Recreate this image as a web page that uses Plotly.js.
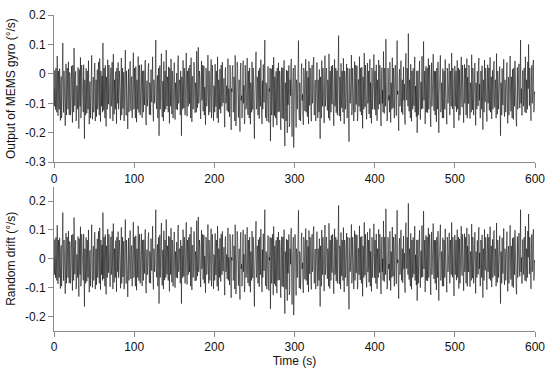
<!DOCTYPE html>
<html>
<head>
<meta charset="utf-8">
<script src="https://cdn.plot.ly/plotly-3.0.1.min.js"></script>
<style>html,body{margin:0;padding:0;background:#fff;}#chart{width:550px;height:370px;}</style>
</head>
<body>
<div id="chart"></div>
<script>
// Sampling: one reading every 0.5 s, 0 .. 600 s
const sampleStartS = 0;
const sampleIntervalS = 0.5;

// Output of the MEMS gyro (°/s) (40 readings = 20 s per row)
const gyroOutput = [
-.048,-.11,.012,-.07,-.121,.02,-.035,-.13,.061,-.05,-.142,.01,-.067,-.12,.018,-.09,-.158,-.03,-.009,-.15,-.083,.04,.105,-.08,-.131,.01,-.02,-.1,-.176,-.06,.034,-.14,-.095,.02,-.061,-.12,.041,-.09,-.139,.005,
-.004,-.14,-.117,-.02,.027,-.09,-.165,.03,-.052,-.13,.088,-.06,-.108,-.01,.009,-.16,-.149,-.04,-.071,-.12,.022,-.08,-.186,.015,-.038,-.11,.056,-.15,-.127,.03,-.015,-.07,-.094,-.13,.031,-.05,-.22,-.02,-.063,-.14,
.019,-.08,-.133,.01,-.047,-.12,.045,-.1,-.171,-.04,-.026,-.15,-.088,.02,.063,-.11,-.154,-.06,-.011,-.13,-.112,.03,.037,-.16,-.069,-.02,-.145,-.07,.014,-.12,-.093,.04,-.03,-.14,.052,-.09,-.162,.01,-.058,-.11,
-.007,-.13,.105,-.05,-.124,.02,-.041,-.15,.029,-.09,-.178,-.01,-.064,-.12,.048,-.07,-.103,.03,-.016,-.14,-.152,-.03,.021,-.11,-.079,.04,-.036,-.16,.067,-.08,-.137,-.02,-.055,-.12,.008,-.06,-.169,.02,-.042,-.1,
.039,-.12,-.098,.01,-.021,-.07,-.157,-.03,.054,-.14,-.072,.02,-.118,-.05,.006,-.16,-.044,-.09,.081,-.06,-.141,.01,-.028,-.11,-.187,-.04,.017,-.13,-.066,.03,.043,-.1,-.125,-.02,-.009,-.15,-.091,.05,.072,-.12,
-.113,.02,-.034,-.15,.025,-.08,-.164,-.02,-.059,-.12,.059,-.04,-.131,.03,-.013,-.14,-.085,-.06,.032,-.1,-.149,.01,-.046,-.13,.011,-.07,-.106,.04,.047,-.15,-.174,-.05,-.023,-.11,-.077,.02,.036,-.09,-.138,-.03,
-.051,-.14,.015,-.07,-.096,.01,.058,-.12,-.161,-.02,-.031,-.1,-.07,.03,.115,-.09,-.119,-.04,-.005,-.15,-.082,.02,-.21,-.06,.028,-.12,-.058,-.01,.069,-.1,-.147,-.03,-.024,-.16,.042,-.08,-.129,.01,-.063,-.12,
.081,-.05,-.109,-.01,-.037,-.13,.024,-.08,-.168,.02,-.049,-.11,.051,-.06,-.136,.01,-.012,-.15,-.097,.03,.038,-.09,-.155,-.03,-.066,-.12,.003,-.07,-.122,.04,.062,-.1,-.083,-.02,-.029,-.14,.01,-.06,-.21,-.01,
-.044,-.12,.046,-.06,-.116,.02,-.018,-.14,-.073,-.02,.071,-.09,-.144,.01,-.035,-.11,.019,-.07,-.101,.03,-.06,-.15,.055,-.04,-.163,-.01,-.008,-.12,-.087,.04,.035,-.08,-.132,-.03,-.052,-.13,.077,-.05,-.115,.02,
.09,-.1,-.076,.01,-.02,-.12,-.153,-.04,.044,-.09,-.068,.03,-.127,-.02,.027,-.14,-.045,-.08,-.172,.02,.012,-.11,-.094,-.03,.064,-.07,-.14,.01,-.033,-.13,-.081,-.01,.049,-.15,-.118,.03,-.003,-.09,-.159,-.04,
-.057,-.13,.033,-.07,-.111,.01,-.027,-.15,.058,-.06,-.166,-.02,-.064,-.12,.016,-.09,-.134,.03,-.042,-.11,.04,-.07,-.098,-.02,-.015,-.14,-.181,.01,.022,-.1,-.071,-.04,-.125,.02,.052,-.13,-.05,-.08,-.146,.03,
.007,-.11,-.19,-.05,-.061,.02,.029,-.13,-.12,-.01,-.034,-.16,.063,-.08,-.177,-.03,-.089,.04,.018,-.12,-.148,-.06,-.02,-.14,-.196,.01,.037,-.09,-.074,-.15,-.117,.02,.045,-.1,-.039,-.17,-.163,.03,-.01,-.12,
-.102,-.02,.054,-.11,-.139,.01,-.046,-.15,.02,-.08,-.171,-.03,-.065,-.13,.041,-.07,-.121,.02,-.014,-.16,-.22,-.09,-.056,.03,.075,-.12,-.108,-.01,-.03,-.14,.011,-.06,-.152,.02,-.072,-.11,.048,-.05,-.135,-.17,
-.023,-.12,.032,-.08,-.097,.02,.115,-.1,-.149,-.03,-.041,-.16,-.083,.01,.026,-.13,-.165,-.05,-.06,.02,-.228,-.09,.017,-.14,-.113,.03,-.037,-.18,.057,-.07,-.142,-.01,-.069,-.15,.009,-.1,-.174,.02,-.048,-.13,
.038,-.09,-.128,.01,-.018,-.17,-.19,-.04,.022,-.15,-.086,.02,-.153,-.07,.046,-.19,-.245,-.03,-.062,-.16,.013,-.11,-.2,.01,-.105,-.05,.029,-.18,-.167,-.02,-.074,.03,.051,-.14,-.213,-.06,-.039,.02,-.25,-.08,
-.091,.03,.024,-.15,-.182,-.02,-.033,-.12,-.04,.04,.113,-.1,-.156,-.03,-.047,-.16,-.118,.01,.035,-.09,-.069,-.14,-.173,.02,.008,-.07,-.126,-.02,.05,-.13,-.058,.01,-.145,-.09,-.012,-.17,.043,-.06,-.107,.02,
-.036,-.12,-.161,.01,.03,-.1,-.079,.04,.057,-.14,-.137,-.03,-.021,-.16,-.092,.02,.039,-.08,-.15,-.02,-.054,-.13,.015,-.07,-.22,-.01,-.068,-.15,.045,-.06,-.11,.02,-.025,-.12,-.167,-.04,.062,-.11,-.083,.01,
.02,-.08,-.124,-.02,-.043,-.15,.068,-.06,-.158,.01,-.06,-.13,.026,-.09,-.103,.03,-.017,-.12,-.176,-.04,.049,-.11,-.087,.02,-.132,-.05,.011,-.14,-.051,.04,.13,-.07,-.143,-.01,-.028,-.16,.036,-.09,-.115,.01,
-.066,-.13,.053,-.04,-.17,.01,-.008,-.12,-.097,-.02,.034,-.15,-.141,.02,-.049,-.11,-.23,-.06,.018,-.1,-.078,-.03,.064,-.14,-.119,.02,-.031,-.09,-.16,-.01,.042,-.13,-.062,.03,-.104,-.07,.027,-.16,-.148,-.02,
-.019,-.11,.059,-.05,-.128,.02,-.07,-.14,.023,-.09,-.185,-.01,-.044,-.12,.071,-.06,-.112,.03,-.006,-.13,-.154,-.04,.037,-.1,-.084,.01,-.136,-.05,.05,-.15,-.029,-.08,-.168,.02,.014,-.12,-.095,-.03,.066,-.09,
-.121,.01,-.038,-.14,.031,-.07,-.159,-.02,-.067,-.12,.047,-.05,-.103,.03,-.012,-.15,-.177,-.04,.021,-.1,-.055,-.13,.076,-.06,-.134,.02,-.026,-.11,.118,-.03,-.09,-.16,-.149,.02,.01,-.09,-.073,-.13,.04,-.06,
-.165,-.03,-.047,-.12,.055,-.08,-.115,.02,-.021,-.15,-.081,.03,.029,-.1,-.142,-.02,.113,-.07,-.058,-.14,-.193,-.01,.016,-.11,-.1,.04,.045,-.13,-.063,-.02,-.138,.01,.024,-.09,-.035,-.15,-.172,.02,.07,-.08,
-.089,.02,-.014,-.11,.137,-.06,-.127,-.02,-.052,-.15,.033,-.07,-.161,.01,-.07,-.12,.019,-.04,-.108,.03,.058,-.13,-.041,-.09,-.146,.01,-.2,-.05,.011,-.14,-.093,.02,.044,-.1,-.155,-.03,-.027,-.12,.06,-.07,
-.118,-.02,.11,-.09,-.064,.01,-.17,-.05,.026,-.13,-.039,.02,-.132,-.07,.052,-.12,-.086,.03,-.011,-.15,-.18,-.04,.038,-.11,-.076,-.02,.067,-.1,-.125,.01,-.045,-.14,.009,-.06,-.163,.02,-.057,-.12,.041,-.09,
-.2,-.07,-.032,.02,.063,-.13,-.111,-.03,-.06,-.15,.018,-.08,-.15,.01,-.024,-.12,.049,-.05,-.097,-.16,-.171,.02,.007,-.1,-.08,-.03,.035,-.14,-.138,.01,-.05,-.11,.071,-.06,-.119,.02,-.016,-.13,-.184,-.04,
.027,-.11,-.073,.01,-.129,-.04,.046,-.12,-.037,.02,-.158,-.06,.014,-.14,-.092,-.01,.058,-.08,-.113,.03,-.029,-.13,-.166,-.02,.032,-.1,-.066,.02,-.14,-.05,.052,-.15,-.011,-.07,-.101,.03,.021,-.12,-.152,-.03,
-.048,-.13,.065,-.06,-.122,.02,-.019,-.14,-.084,.01,.037,-.1,-.175,-.03,-.055,-.12,.009,-.07,-.109,.03,.054,-.09,-.034,-.15,-.147,.01,-.07,-.12,.028,-.05,-.189,-.02,-.043,-.13,.047,-.08,-.095,.02,-.013,-.11,
-.162,-.04,.031,-.1,-.067,.02,-.124,-.06,.056,-.13,-.029,-.01,-.153,-.07,.012,-.12,-.088,.03,.043,-.11,-.114,-.02,-.052,-.15,.069,-.05,-.137,.01,-.021,-.12,-.078,.02,.025,-.09,-.21,-.03,-.046,-.14,.018,-.07,
-.106,.01,.05,-.12,-.145,-.02,-.036,-.13,-.074,.03,.039,-.09,-.168,-.04,-.011,-.14,-.093,.02,.061,-.07,-.127,-.01,-.058,-.15,.016,-.06,-.155,.02,-.027,-.11,.044,-.08,-.099,-.16,-.178,-.03,.022,-.12,-.063,.01,
.034,-.08,-.116,-.02,.115,-.1,-.05,-.14,-.141,.01,.012,-.11,-.087,.02,-.024,-.13,.058,-.06,-.133,-.02,-.066,-.12,.041,-.05,.1,-.09,-.108,.02,-.03,-.14,-.159,-.03,.029,-.1,-.081,.03,.047,-.13,-.12,-.06,
-.07
];

// Constant bias of the gyro (°/s): the lower panel (random drift) is the same
// record with this offset removed.
const gyroBias = -0.055;
const randomDrift = gyroOutput.map(v => Math.round((v - gyroBias) * 1000) / 1000);

// Tick labels
const timeTicks = [0, 100, 200, 300, 400, 500, 600];
const timeTickText = ['0', '100', '200', '300', '400', '500', '600'];
const gyroTicks = [-0.3, -0.2, -0.1, 0, 0.1, 0.2];
const gyroTickText = ['-0.3', '-0.2', '-0.1', '0', '0.1', '0.2'];
const driftTicks = [-0.2, -0.1, 0, 0.1, 0.2];
const driftTickText = ['-0.2', '-0.1', '0', '0.1', '0.2'];

const FONT = 'Liberation Sans, Arial, Helvetica, sans-serif';
const AXIS_GREY = '#8a8a8a';

const traces = [
  {type: 'scatter', mode: 'lines', x0: sampleStartS, dx: sampleIntervalS, y: gyroOutput,
   xaxis: 'x', yaxis: 'y', line: {color: '#000', width: 0.55}, hoverinfo: 'skip'},
  {type: 'scatter', mode: 'lines', x0: sampleStartS, dx: sampleIntervalS, y: randomDrift,
   xaxis: 'x2', yaxis: 'y2', line: {color: '#000', width: 0.55}, hoverinfo: 'skip'}
];

const axisCommon = {
  showline: true, linecolor: AXIS_GREY, linewidth: 1,
  ticks: 'outside', ticklen: 5, tickcolor: AXIS_GREY, tickwidth: 1,
  showgrid: false, zeroline: false, automargin: false,
  tickfont: {family: FONT, size: 12, color: '#111'}
};

const layout = {
  width: 550, height: 370,
  margin: {l: 54, r: 15, t: 15, b: 39},
  paper_bgcolor: '#fff', plot_bgcolor: '#fff',
  showlegend: false,
  font: {family: FONT, size: 12, color: '#111'},
  xaxis: Object.assign({}, axisCommon, {
    domain: [0, 1], anchor: 'y', range: [0, 600],
    tickmode: 'array', tickvals: timeTicks, ticktext: timeTickText
  }),
  yaxis: Object.assign({}, axisCommon, {
    domain: [0.534, 1], anchor: 'x', range: [-0.3, 0.2],
    tickmode: 'array', tickvals: gyroTicks, ticktext: gyroTickText,
    title: {text: 'Output of MEMS gyro (°/s)', font: {family: FONT, size: 12, color: '#111'}, standoff: 6}
  }),
  xaxis2: Object.assign({}, axisCommon, {
    domain: [0, 1], anchor: 'y2', range: [0, 600],
    tickmode: 'array', tickvals: timeTicks, ticktext: timeTickText,
    title: {text: 'Time (s)', font: {family: FONT, size: 12, color: '#111'}, standoff: 2}
  }),
  yaxis2: Object.assign({}, axisCommon, {
    domain: [0, 0.457], anchor: 'x2', range: [-0.25, 0.25],
    tickmode: 'array', tickvals: driftTicks, ticktext: driftTickText,
    title: {text: 'Random drift (°/s)', font: {family: FONT, size: 12, color: '#111'}, standoff: 6}
  })
};

Plotly.newPlot('chart', traces, layout, {staticPlot: true, displayModeBar: false});
</script>
</body>
</html>
